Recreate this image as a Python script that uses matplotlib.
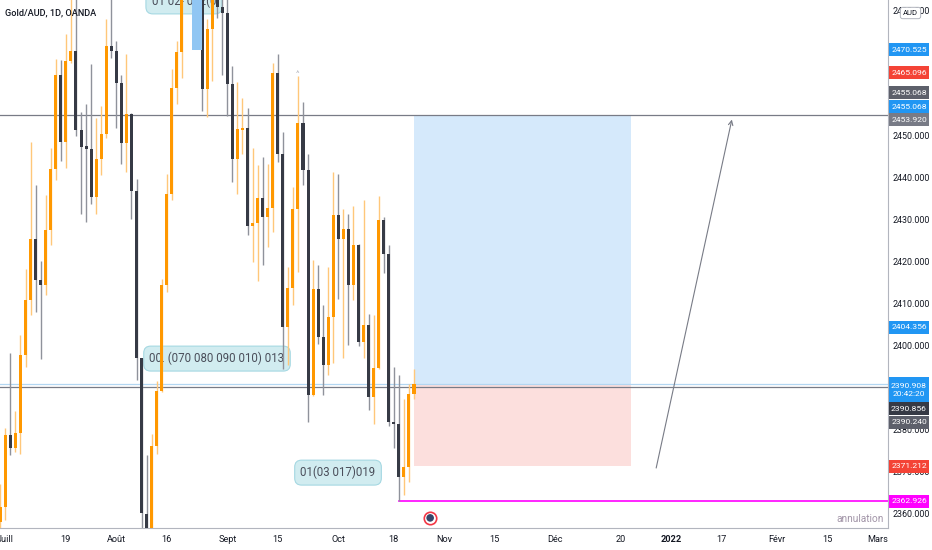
import matplotlib
matplotlib.use("Agg")
import matplotlib.pyplot as plt
import matplotlib.transforms as mtransforms
from matplotlib.patches import Rectangle

plt.rcParams['font.family'] = ['Roboto', 'DejaVu Sans']

# Gold/AUD daily candles, 30 Jun 2021 .. 22 Oct 2021 (one entry per trading day)
opens = [2357.87, 2361.45, 2378.66, 2375.56, 2379.14, 2397.78, 2410.93, 2425.51, 2415.71, 2414.51,
         2427.66, 2442.24, 2464.46, 2448.45, 2467.81, 2470.20, 2451.32, 2447.73, 2446.78, 2435.54,
         2444.63, 2450.36, 2471.39, 2470.20, 2462.55, 2448.21, 2455.14, 2436.98, 2397.07, 2359.78,
         2352.50, 2376.03, 2389.18, 2414.51, 2436.26, 2461.36, 2469.96, 2484.00, 2492.00, 2487.00,
         2490.00, 2461.12, 2475.46, 2483.50, 2480.72, 2479.28, 2462.31, 2444.63, 2451.32, 2451.80,
         2428.61, 2429.33, 2435.31, 2430.76, 2432.92, 2464.94, 2445.82, 2404.47, 2413.80, 2432.68,
         2452.99, 2442.00, 2388.22, 2413.56, 2402.08, 2395.39, 2406.86, 2431.24, 2425.51, 2427.90,
         2414.51, 2424.07, 2400.89, 2404.95, 2387.74, 2394.68, 2430.05, 2421.92, 2381.77, 2381.29,
         2368.62, 2371.01, 2388.46]
highs = [2366.95, 2380.34, 2398.26, 2384.40, 2402.56, 2418.34, 2448.45, 2438.41, 2420.25, 2436.02,
         2447.02, 2468.29, 2468.05, 2474.26, 2484.06, 2485.00, 2455.62, 2457.53, 2467.09, 2454.19,
         2457.05, 2477.85, 2484.00, 2472.59, 2464.46, 2469.48, 2455.38, 2439.85, 2397.07, 2373.88,
         2378.90, 2391.57, 2415.95, 2441.04, 2465.90, 2472.59, 2488.00, 2495.00, 2497.00, 2494.00,
         2493.00, 2478.00, 2489.00, 2486.00, 2484.00, 2483.50, 2466.61, 2462.79, 2458.97, 2456.58,
         2447.02, 2443.19, 2445.10, 2443.43, 2467.33, 2469.48, 2450.84, 2418.81, 2437.93, 2464.22,
         2458.01, 2445.82, 2420.49, 2419.29, 2409.73, 2418.81, 2441.52, 2441.04, 2432.68, 2431.48,
         2433.39, 2424.31, 2434.83, 2407.58, 2407.34, 2435.78, 2430.76, 2424.07, 2394.91, 2393.00,
         2387.27, 2390.85, 2394.44]
lows = [2354.28, 2358.35, 2373.88, 2374.60, 2374.12, 2394.91, 2407.34, 2408.06, 2396.83, 2412.12,
        2424.07, 2439.61, 2444.15, 2442.48, 2467.33, 2449.88, 2431.48, 2429.57, 2433.87, 2431.48,
        2440.80, 2449.50, 2468.53, 2451.80, 2443.43, 2441.52, 2430.29, 2391.81, 2330.00, 2345.00,
        2348.00, 2374.12, 2388.94, 2412.84, 2434.83, 2457.53, 2463.75, 2483.00, 2484.00, 2472.00,
        2455.86, 2454.43, 2463.03, 2478.09, 2464.46, 2454.66, 2439.13, 2436.26, 2445.82, 2426.46,
        2420.01, 2415.47, 2419.29, 2423.59, 2427.18, 2443.91, 2394.44, 2395.39, 2409.73, 2417.62,
        2438.41, 2381.77, 2388.00, 2400.41, 2388.22, 2393.00, 2395.87, 2411.17, 2397.07, 2400.17,
        2410.93, 2399.93, 2397.07, 2384.64, 2381.29, 2394.50, 2417.38, 2380.81, 2375.56, 2362.93,
        2364.32, 2367.43, 2387.27]
closes = [2361.45, 2378.66, 2375.56, 2379.14, 2397.78, 2410.93, 2425.51, 2415.71, 2414.51, 2427.66,
          2442.24, 2464.46, 2448.45, 2467.81, 2470.20, 2451.32, 2447.49, 2446.78, 2435.54, 2444.63,
          2450.36, 2471.39, 2470.20, 2462.55, 2448.21, 2455.14, 2436.98, 2397.07, 2360.02, 2352.00,
          2376.03, 2389.18, 2414.51, 2436.26, 2461.36, 2469.96, 2484.00, 2492.00, 2487.00, 2490.00,
          2461.12, 2475.46, 2486.00, 2480.72, 2479.28, 2462.31, 2444.63, 2451.56, 2451.80, 2428.61,
          2429.33, 2435.31, 2430.76, 2432.92, 2464.94, 2445.82, 2404.47, 2413.80, 2432.68, 2452.99,
          2442.00, 2388.22, 2413.56, 2402.08, 2395.39, 2406.86, 2431.24, 2425.51, 2427.90, 2414.51,
          2424.07, 2400.89, 2404.95, 2387.74, 2394.68, 2430.05, 2421.92, 2381.77, 2381.29, 2368.62,
          2371.01, 2388.46, 2390.91]

# time axis (bar index of each label, bars counted from 30 Jun 2021)
tick_idx = [1, 13, 23, 33, 45, 55, 67, 78, 88, 98, 110, 123, 133, 143, 154, 164, 174]
tick_lab = ["Juill", "19", "Août", "16", "Sept", "15", "Oct", "18", "Nov", "15",
            "Déc", "20", "2022", "17", "Févr", "15", "Mars"]

# long position drawn on the chart
entry = 2390.908
target = 2455.068
stop = 2371.212
invalid = 2362.926
pos_start, pos_end = 82, 125
arrow_from = (130, 2370.8)
arrow_to = (145, 2453.920)

# labels on the price scale
tag_text = ["2470.525", "2465.096", "2455.068", "2455.068", "2453.920", "2404.356",
            "2390.908\n20:42:20", "2390.856", "2390.240", "2371.212", "2362.926"]
tag_color = ["#2196f3", "#f44336", "#5d606b", "#2196f3", "#787b86", "#2196f3",
             "#2196f3", "#363a45", "#5d606b", "#f44336", "#ff00ff"]
tag_shift = [0, 0, -22, -8, 0, 0, 0, 25, 35.5, 0, 0]   # pixels, label pushed off its price

W, H = 932, 550
AX_R, AX_B = 888, 528
Y_TOP, Y_BOT = 2482.44, 2356.49
ppu = (Y_TOP - Y_BOT) / AX_B   # price units per pixel

fig = plt.figure(figsize=(W / 100, H / 100), dpi=100)
ax = fig.add_axes([0, (H - AX_B) / H, AX_R / W, AX_B / H])
ax.set_xlim(-0.06, 175.95)
ax.set_ylim(Y_BOT, Y_TOP)

# long position boxes
ax.add_patch(Rectangle((pos_start, entry), pos_end - pos_start, target - entry,
                       facecolor="#d5e9fb", edgecolor="none", zorder=1))
ax.add_patch(Rectangle((pos_start, stop), pos_end - pos_start, entry - stop,
                       facecolor="#fcdfdd", edgecolor="none", zorder=1))

# horizontal lines
ax.axhline(target, color="#787b86", lw=0.9, zorder=2)
ax.axhline(entry, color="#b3d7f2", lw=0.9, zorder=2)
ax.axhline(2390.240, color="#787b86", lw=0.9, zorder=2)
ax.plot([79, 176], [invalid, invalid], color="#ff00ff", lw=1.2, zorder=2)

# candles
for i in range(len(opens)):
    o, h, l, c = opens[i], highs[i], lows[i], closes[i]
    if c >= o:
        body, wick = "#ff9800", "#ffc77a"
    else:
        body, wick = "#363a45", "#8f929b"
    ax.vlines(i, l, h, color=wick, lw=1.0, zorder=3)
    ax.bar(i, max(abs(c - o), 0.4), bottom=min(o, c), width=0.6, color=body,
           linewidth=0, zorder=4)

# range highlight at the top
ax.add_patch(Rectangle((38.0, 2470.525), 2.0, 20, facecolor="#90c6f3",
                       edgecolor="none", zorder=4.5))

# text notes
note_box = dict(boxstyle="round,pad=0.5,rounding_size=0.6", fc="#d1ecf0", ec="#a5d8e2", lw=0.8)
ax.text(36.4, 2482.1, "01 02- 012(0", fontsize=8.3, color="#4a4e5a", ha="center",
        va="center", bbox=note_box, zorder=2.5, clip_on=True)
ax.text(42.95, 2396.9, "00. (070 080 090 010) 013", fontsize=8.3, color="#4a4e5a",
        ha="center", va="center", bbox=note_box, zorder=2.5)
ax.text(66.94, 2369.7, "01(03 017)019", fontsize=8.3, color="#4a4e5a",
        ha="center", va="center", bbox=note_box, zorder=2.5)

ax.annotate("", xy=arrow_to, xytext=arrow_from,
            arrowprops=dict(arrowstyle="->", color="#787b86", lw=0.8,
                            mutation_scale=8, shrinkA=0, shrinkB=0), zorder=5)
ax.text(59, 2464.0, "^", fontsize=6, color="#b2b5be", ha="center", va="bottom", zorder=5)

ax.text(884 / AX_R, invalid - 4.2, "annulation", transform=mtransforms.blended_transform_factory(
    ax.transAxes, ax.transData), fontsize=7.3, color="#a295a8", ha="right", va="center")

ax.text(5 / AX_R, 1 - 13 / AX_B, "Gold/AUD, 1D, OANDA", transform=ax.transAxes,
        fontsize=6.6, color="#131722", ha="left", va="center", zorder=6, fontweight="medium")

# event icon under the last candles
ax.scatter([85.2], [2358.9], s=80, facecolor="white", edgecolor="#f23645", lw=1.2,
           zorder=6, clip_on=False)
ax.scatter([85.2], [2358.9], s=30, facecolor="#34466a", edgecolor="none", zorder=7,
           clip_on=False)

# axes styling
for s in ["top", "left"]:
    ax.spines[s].set_visible(False)
ax.spines["right"].set_color("#b2b5be")
ax.spines["bottom"].set_color("#b2b5be")
ax.yaxis.tick_right()
ax.set_yticks(list(range(2360, 2490, 10)))
ax.set_yticklabels([f"{v:.3f}" for v in range(2360, 2490, 10)])
ax.tick_params(axis="y", length=0, pad=3.5, labelsize=6.4, labelcolor="#131722")
ax.set_xticks(tick_idx)
ax.set_xticklabels(tick_lab)
ax.tick_params(axis="x", length=0, pad=5, labelsize=6.6, labelcolor="#131722")
for t in ax.get_xticklabels():
    if t.get_text() == "2022":
        t.set_fontweight("bold")

# price-scale tags
tr = mtransforms.blended_transform_factory(fig.transFigure, ax.transData)
for txt, col, sh in zip(tag_text, tag_color, tag_shift):
    val = float(txt.split("\n")[0])
    lines = txt.count("\n") + 1
    hgt = 13 * lines * ppu
    top = val - sh * ppu + 6.5 * ppu
    ax.add_patch(Rectangle((889 / W, top - hgt), 40 / W, hgt, transform=tr,
                           facecolor=col, edgecolor="none", zorder=10, clip_on=False))
    ax.text(909 / W, top - hgt / 2, txt, transform=tr, fontsize=6.1, color="white",
            ha="center", va="center", zorder=11, clip_on=False, linespacing=1.45)

# currency badge
fig.text(910.5 / W, 1 - 13 / H, "AUD", fontsize=5.5, color="#131722", ha="center", va="center",
         bbox=dict(boxstyle="round,pad=0.35,rounding_size=0.3", fc="white", ec="#b2b5be", lw=0.7),
         zorder=12)

fig.savefig("out.png", dpi=100)
